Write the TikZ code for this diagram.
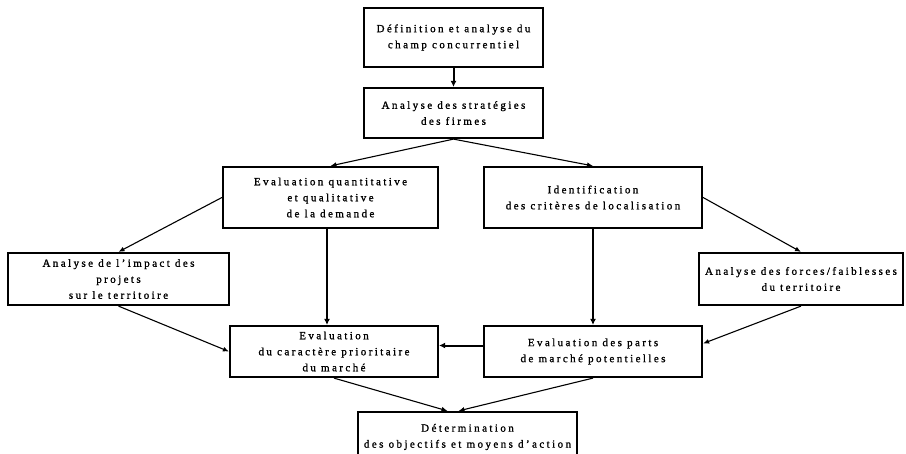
\documentclass[tikz,border=0pt]{standalone}
\usepackage{fontspec}
\setmainfont[LetterSpace=22,FakeBold=1.2]{Liberation Serif}
\usetikzlibrary{arrows.meta}

\tikzset{
  stepbox/.style={draw=black, line width=2.2pt, fill=white, align=center,
    inner sep=0pt, font=\fontsize{11}{16}\selectfont},
  link/.style={line width=1.1pt, -{Latex[length=6pt,width=5pt]}},
  vlink/.style={line width=2pt, -{Latex[length=6pt,width=6pt]}}
}

\begin{document}
\begin{tikzpicture}[x=1pt,y=-1pt]
  \useasboundingbox[fill=white] (0,0) rectangle (906,453);

  % process steps
  \node[stepbox, minimum width=179pt, minimum height=59pt] (b1) at (453.5,37.5)
    {Définition et analyse du\\champ concurrentiel};
  \node[stepbox, minimum width=179pt, minimum height=50pt] (b2) at (453.5,113)
    {Analyse des stratégies\\des firmes};
  \node[stepbox, minimum width=215pt, minimum height=61pt] (b3) at (330.5,197.5)
    {Evaluation quantitative\\et qualitative\\de la demande};
  \node[stepbox, minimum width=218pt, minimum height=61pt] (b4) at (593,197.5)
    {Identification\\des critères de localisation};
  \node[stepbox, minimum width=221pt, minimum height=52pt] (b5) at (118.5,279)
    {Analyse de l'impact des\\projets\\sur le territoire};
  \node[stepbox, minimum width=204pt, minimum height=52pt] (b6) at (801,279)
    {Analyse des forces/faiblesses\\du territoire};
  \node[stepbox, minimum width=208pt, minimum height=51pt] (b7) at (334,351.5)
    {Evaluation\\du caractère prioritaire\\du marché};
  \node[stepbox, minimum width=218pt, minimum height=51pt] (b8) at (593,351.5)
    {Evaluation des parts\\de marché potentielles};
  \node[stepbox, minimum width=219pt, minimum height=50pt] (b9) at (467.5,437)
    {Détermination\\des objectifs et moyens d'action};

  % connectors
  \draw[vlink] (b1.south) -- (b2.north);
  \draw[link] (b2.south) -- (b3.north);
  \draw[link] (b2.south) -- (b4.north);
  \draw[link] (b3.west) -- (b5.north);
  \draw[link] (b4.east) -- (b6.north);
  \draw[vlink] ([xshift=-3.5pt]b3.south) -- ([xshift=-7pt]b7.north);
  \draw[vlink] (b4.south) -- (b8.north);
  \draw[link] (b5.south) -- (b7.west);
  \draw[link] (b6.south) -- ([yshift=8pt]b8.east);
  \draw[vlink] ([yshift=6pt]b8.west) -- ([yshift=6pt]b7.east);
  \draw[link] (b7.south) -- ([xshift=-20pt]b9.north);
  \draw[link] (b8.south) -- ([xshift=-9pt]b9.north);
\end{tikzpicture}
\end{document}
